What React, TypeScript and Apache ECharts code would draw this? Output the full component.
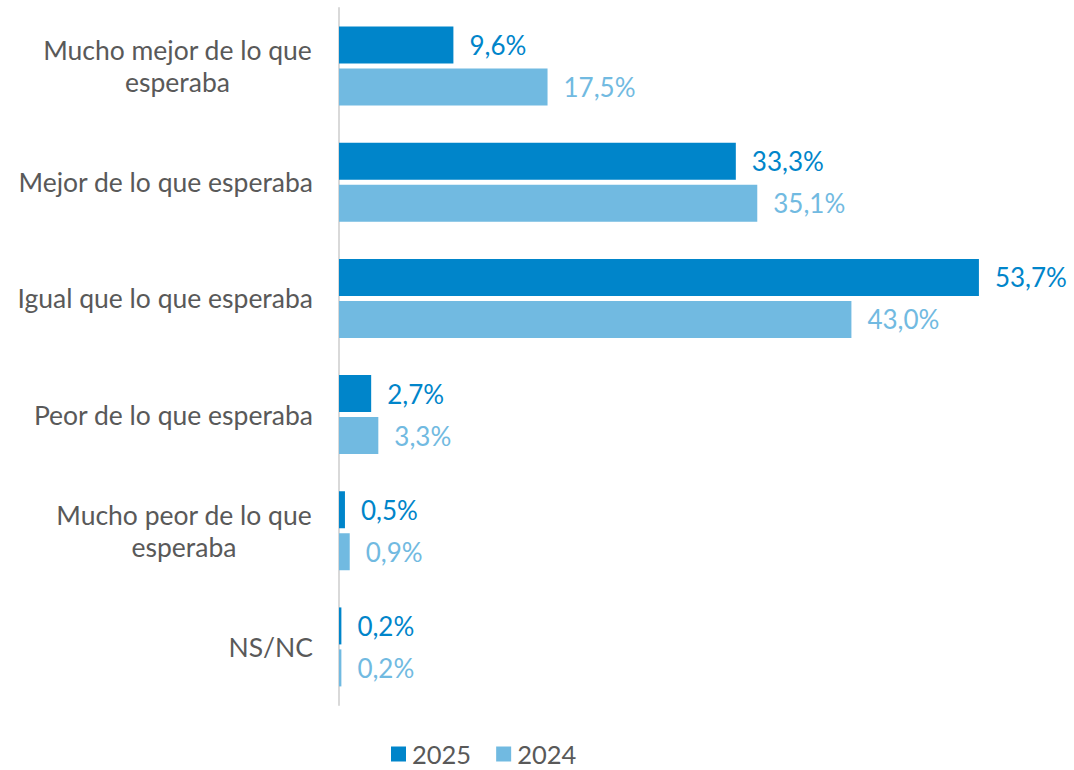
import React, { useEffect, useRef } from "react";
import * as echarts from "echarts";

const categories = [
  "Mucho mejor de lo que\nesperaba",
  "Mejor de lo que esperaba",
  "Igual que lo que esperaba",
  "Peor de lo que esperaba",
  "Mucho peor de lo que\nesperaba",
  "NS/NC",
];
const values2025 = [9.6, 33.3, 53.7, 2.7, 0.5, 0.2];
const values2024 = [17.5, 35.1, 43.0, 3.3, 0.9, 0.2];
const seriesNames = ["2025", "2024"];

const DARK = "#0085CA";
const LIGHT = "#71BAE1";
const GRAY = "#595959";
const FONT = "Lato";

const fmt = (v: number) => v.toFixed(1).replace(".", ",") + "%";

export default function App() {
  const ref = useRef<HTMLDivElement>(null);
  useEffect(() => {
    if (!ref.current) return;
    const chart = echarts.init(ref.current, undefined, { renderer: "svg" });
    const labelFormatter = (val: string) => {
      const parts = val.split("\n");
      if (parts.length === 1) return "{s|" + val + "}";
      const key = parts[0].startsWith("Mucho mejor") ? "m1" : "m2";
      return parts.map((p) => "{" + key + "|" + p + "}").join("\n");
    };
    const richBase = {
      fontFamily: FONT,
      fontSize: 26.5,
      color: GRAY,
      lineHeight: 32,
    };
    const valueLabel = (color: string) => ({
      show: true,
      position: "right",
      distance: 16,
      color,
      fontFamily: FONT,
      fontSize: 26,
      formatter: (p: any) => fmt(p.value),
    });
    chart.setOption({
      animation: false,
      grid: { left: 339, top: 8, width: 715, height: 697, containLabel: false },
      legend: {
        data: seriesNames,
        top: 741,
        left: 391,
        padding: 0,
        itemWidth: 15,
        itemHeight: 15,
        itemGap: 25,
        icon: "rect",
        textStyle: { fontFamily: FONT, fontSize: 25.5, lineHeight: 22, color: GRAY, padding: [0, 0, 0, 1] },
      },
      xAxis: {
        type: "value",
        min: 0,
        max: 60,
        show: false,
      },
      yAxis: {
        type: "category",
        data: categories,
        inverse: true,
        axisLine: { show: true, lineStyle: { color: "#D9D9D9", width: 2 } },
        axisTick: { show: false },
        axisLabel: {
          margin: 26,
          formatter: labelFormatter,
          rich: {
            s: { ...richBase },
            m1: { ...richBase, width: 271, align: "center" },
            m2: { ...richBase, width: 258, align: "center" },
          },
        },
      },
      series: [
        {
          name: seriesNames[0],
          type: "bar",
          data: values2025,
          itemStyle: { color: DARK },
          barCategoryGap: "32%",
          barGap: "13.5%",
          label: valueLabel(DARK),
        },
        {
          name: seriesNames[1],
          type: "bar",
          data: values2024,
          itemStyle: { color: LIGHT },
          barCategoryGap: "32%",
          barGap: "13.5%",
          label: valueLabel(LIGHT),
        },
      ],
    });
    return () => chart.dispose();
  }, []);
  return (
    <div
      ref={ref}
      style={{ position: "fixed", left: 0, top: 0, width: 1074, height: 770, background: "#fff" }}
    />
  );
}
